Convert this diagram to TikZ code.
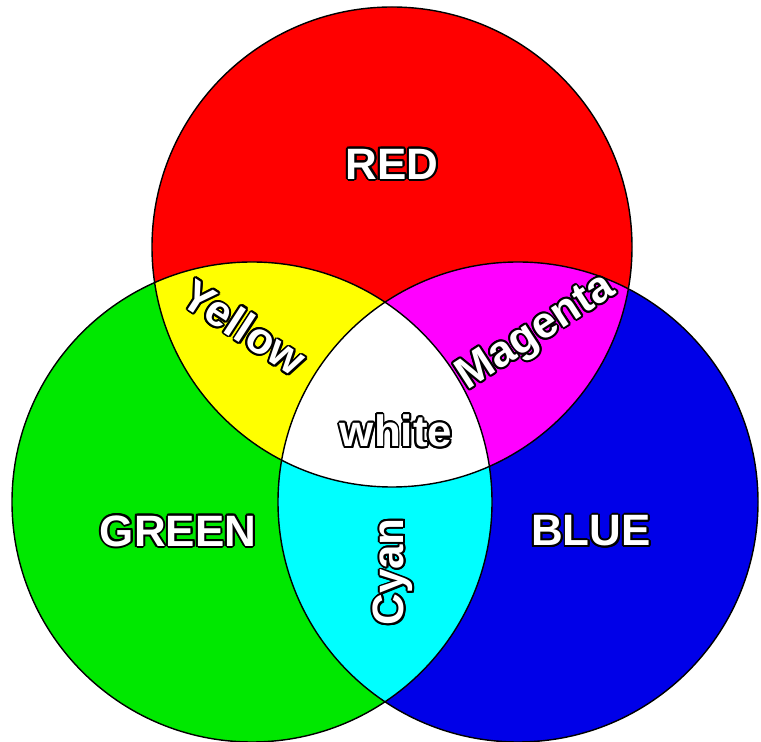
\documentclass[tikz,border=0pt]{standalone}
\usepackage{fontspec}
\setmainfont{Liberation Sans}
\usepackage{contour}
\contourlength{1.1pt}
\usetikzlibrary{positioning}
\definecolor{rgbred}{RGB}{255,0,0}
\definecolor{rgbgreen}{RGB}{0,232,0}
\definecolor{rgbblue}{RGB}{0,0,232}
\definecolor{mixyellow}{RGB}{255,255,0}
\definecolor{mixmagenta}{RGB}{255,0,255}
\definecolor{mixcyan}{RGB}{0,255,255}
% white letters with a black rim
\newcommand{\outlined}[1]{\contour{black}{#1}}

\begin{document}
\begin{tikzpicture}[x=0.02cm, y=-0.02cm,
    every node/.style={text=white, inner sep=0pt},
    label/.style={font=\bfseries\fontsize{25}{30}\selectfont}]
  \useasboundingbox (0,0) rectangle (761,742);
  % three light circles (pixel coordinates, y downwards)
  \def\Rc{240}
  \coordinate (cR) at (392,247);
  \coordinate (cG) at (252,502);
  \coordinate (cB) at (518,502);
  \fill[rgbred]   (cR) circle[radius=\Rc];
  \fill[rgbgreen] (cG) circle[radius=\Rc];
  \fill[rgbblue]  (cB) circle[radius=\Rc];
  % pairwise overlaps
  \begin{scope}
    \clip (cR) circle[radius=\Rc];
    \fill[mixyellow] (cG) circle[radius=\Rc];
    \fill[mixmagenta] (cB) circle[radius=\Rc];
  \end{scope}
  \begin{scope}
    \clip (cG) circle[radius=\Rc];
    \fill[mixcyan] (cB) circle[radius=\Rc];
  \end{scope}
  % all three
  \begin{scope}
    \clip (cR) circle[radius=\Rc];
    \clip (cG) circle[radius=\Rc];
    \fill[white] (cB) circle[radius=\Rc];
  \end{scope}
  % outlines
  \foreach \c in {cR,cG,cB}{
    \draw[line width=0.8pt] (\c) circle[radius=\Rc];
  }

  \node[label] (red)   at (392,165) {\outlined{RED}};
  \node[label] (green) at (178,532) {\outlined{GREEN}};
  \node[label] (blue)  at (591,532) {\outlined{BLUE}};
  \node[label, rotate=-33] (yellow)  at (244,328) {\outlined{Yellow}};
  \node[label, rotate=33]  (magenta) at (537,334) {\outlined{Magenta}};
  \node[label, rotate=90]  (cyan)    at (394,572) {\outlined{Cyan}};
  \node[label] (white) at (396,432) {\outlined{white}};
\end{tikzpicture}
\end{document}
